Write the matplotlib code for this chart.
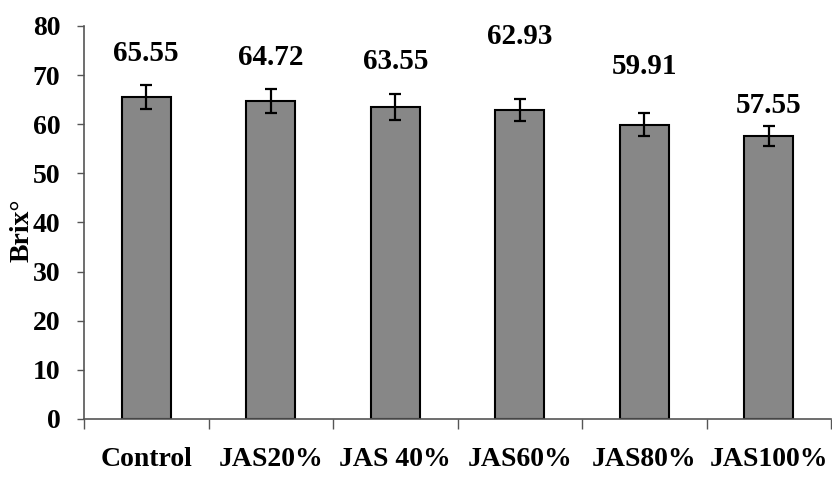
import numpy as np
import matplotlib
matplotlib.use("Agg")
import matplotlib.pyplot as plt

categories = ["Control", "JAS20%", "JAS 40%", "JAS60%", "JAS80%", "JAS100%"]
brix = [65.55, 64.72, 63.55, 62.93, 59.91, 57.55]
errors = [2.35, 2.5, 2.7, 2.3, 2.3, 2.0]
# vertical offset of each value label above its bar (the labels sit unevenly)
label_offset = [8.95, 8.78, 9.15, 14.87, 11.79, 6.35]

plt.rcParams['font.family'] = ['Liberation Serif', 'DejaVu Serif']
plt.rcParams['font.weight'] = 'bold'

fig = plt.figure(figsize=(8.32, 4.78), dpi=100)
ax = fig.add_axes([84 / 832, 59 / 478, 747 / 832, 393 / 478])

x = np.arange(len(categories))
ax.bar(x, brix, width=0.39, color='#878787', edgecolor='black', linewidth=1.5,
       yerr=errors, capsize=4.5, error_kw=dict(ecolor='black', elinewidth=1.6, capthick=1.6),
       zorder=2)

for xi, v, off in zip(x, brix, label_offset):
    ax.text(xi, v + off, f"{v:.2f}", ha='center', va='center',
            fontsize=21, fontweight='bold')

ax.set_xlim(-0.5, len(categories) - 0.5)
ax.set_ylim(0, 80)
ax.set_yticks(np.arange(0, 81, 10))
ax.tick_params(axis='y', labelsize=20, length=5, width=1, color='#555555', pad=12)

ax.set_xticks(x)
ax.set_xticklabels(categories, fontsize=20, fontweight='bold')
ax.set_xticks(np.arange(-0.5, len(categories), 1.0), minor=True)
ax.tick_params(axis='x', which='major', length=0, pad=20)
ax.tick_params(axis='x', which='minor', length=7, width=1, color='#555555', direction='out')

for s in ['top', 'right']:
    ax.spines[s].set_visible(False)
for s in ['left', 'bottom']:
    ax.spines[s].set_color('#555555')
    ax.spines[s].set_linewidth(1.2)

ax.set_ylabel("Brix°", fontsize=20, fontweight='bold')
ax.yaxis.set_label_coords(-0.066, 0.48)

fig.savefig("out.png", dpi=100)
